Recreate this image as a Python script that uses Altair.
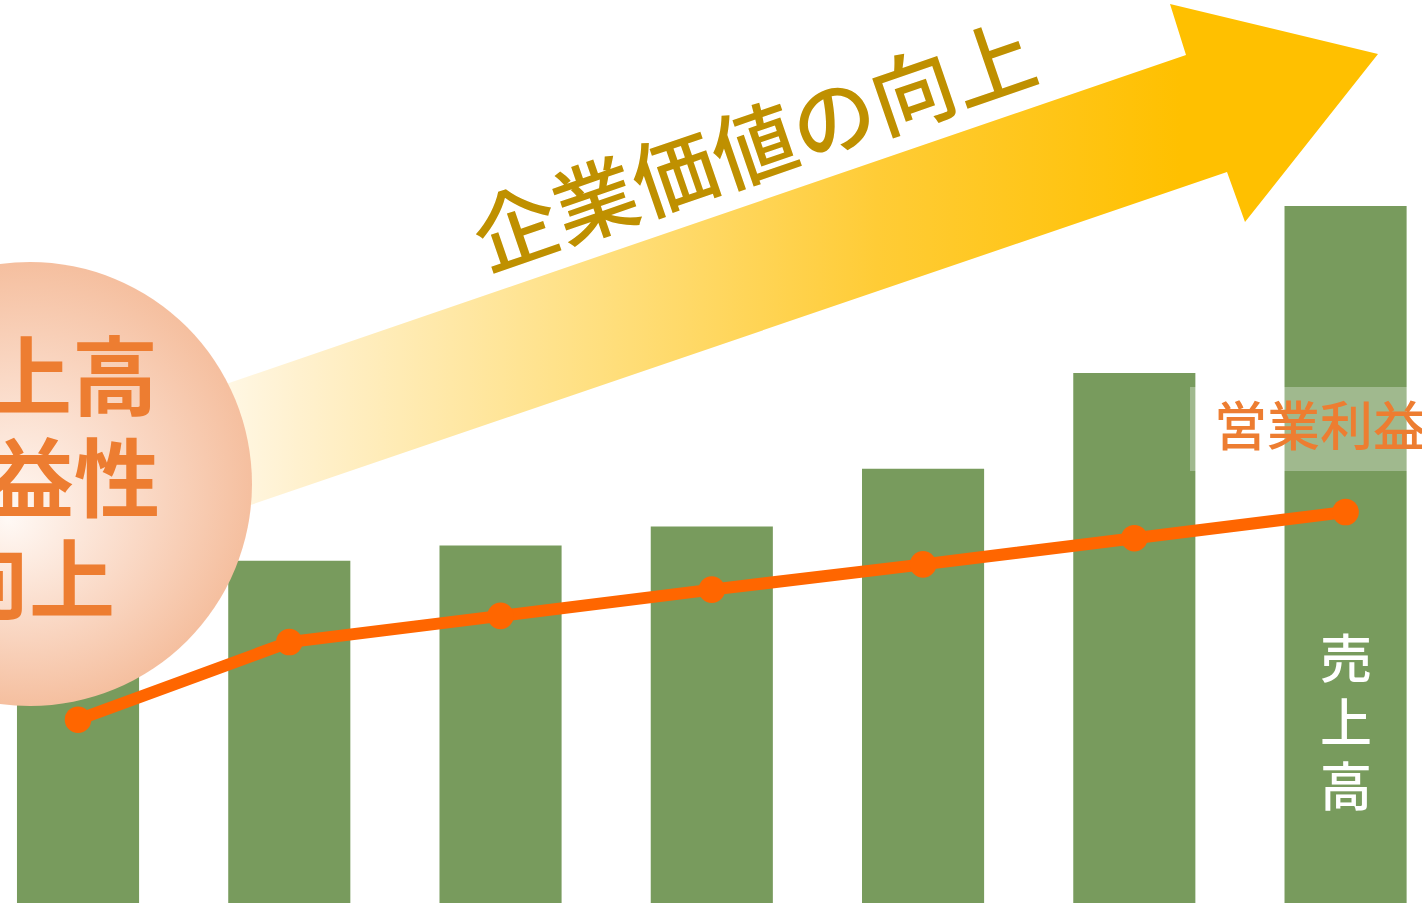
import altair as alt
import pandas as pd

# ---- data ----
periods = ["P1", "P2", "P3", "P4", "P5", "P6", "P7"]
sales = [34.0, 37.9, 39.6, 41.7, 48.1, 58.7, 77.2]          # 売上高 (bars)
profit = [20.3, 28.9, 31.8, 34.7, 37.5, 40.4, 43.3]         # 営業利益 (line)

arrow_title = "企業価値の向上"
circle_lines = ["売上高", "収益性", "の向上"]
profit_label = "営業利益"
sales_label = "売\n上\n高"

df = pd.DataFrame({"period": periods, "sales": sales, "profit": profit})

W, H = 1422, 909
FONT = "Noto Sans CJK JP"
GREEN = "#789b5d"
ORANGE_LINE = "#ff6600"
ORANGE_TEXT = "#ed7d31"
GOLD_TEXT = "#bf9000"

x_enc = alt.X("period:N", sort=periods, axis=None,
              scale=alt.Scale(range=[-27.6, 1451.2], paddingInner=0.422, paddingOuter=0.211))
y_scale = alt.Scale(domain=[0, 100], range=[903, 0], nice=False, zero=True)

base = alt.Chart(df)

bars = base.mark_bar(color=GREEN).encode(
    x=x_enc,
    y=alt.Y("sales:Q", scale=y_scale, axis=None),
)

one = alt.Data(values=[{"k": 1}])

# decorative arrow (custom symbol path, unit scale with size=4)
arrow_path = "M -640 141 L 486 -245 L 470 -296 L 678 -246 L 545 -78 L 527 -128 L -640 270 Z"
arrow_fill = {
    "gradient": "linear", "x1": 0, "y1": 0, "x2": 1, "y2": 0,
    "stops": [
        {"offset": 0.0, "color": "#ffffff"},
        {"offset": 0.10, "color": "#fffaee"},
        {"offset": 0.18, "color": "#fff1cf"},
        {"offset": 0.40, "color": "#ffe082"},
        {"offset": 0.62, "color": "#ffcc36"},
        {"offset": 0.85, "color": "#ffc000"},
        {"offset": 1.0, "color": "#ffc000"},
    ],
}
arrow = alt.Chart(one).mark_point(
    shape=arrow_path, size=4, filled=True, fill=arrow_fill, opacity=1, strokeWidth=0
).encode(x=alt.value(700), y=alt.value(300))

circle_fill = {
    "gradient": "radial", "x1": 0.45, "y1": 0.58, "r1": 0, "x2": 0.5, "y2": 0.5, "r2": 0.5,
    "stops": [
        {"offset": 0.0, "color": "#fff9f5"},
        {"offset": 0.55, "color": "#fad9c6"},
        {"offset": 1.0, "color": "#f5bf9f"},
    ],
}
circle = alt.Chart(one).mark_point(
    shape="circle", size=444 * 444, filled=True, fill=circle_fill, opacity=1, strokeWidth=0
).encode(x=alt.value(30), y=alt.value(484))

line = base.mark_line(color=ORANGE_LINE, strokeWidth=12).encode(
    x=x_enc, y=alt.Y("profit:Q", scale=y_scale, axis=None)
)
pts = base.mark_point(filled=True, color=ORANGE_LINE, size=707, opacity=1).encode(
    x=x_enc, y=alt.Y("profit:Q", scale=y_scale, axis=None)
)

label_box = alt.Chart(one).mark_rect(color="white", opacity=0.3).encode(
    x=alt.value(1190), x2=alt.value(1440), y=alt.value(387), y2=alt.value(471)
)

title_txt = alt.Chart(one).mark_text(
    text=arrow_title, font=FONT, fontSize=84, fontWeight=500, color=GOLD_TEXT,
    angle=341, align="center", baseline="middle"
).encode(x=alt.value(756), y=alt.value(152))

circ_pos = [(158, 383), (160, 485), (115, 586)]
circ_txt = []
for t, (cx, cy) in zip(circle_lines, circ_pos):
    circ_txt.append(alt.Chart(one).mark_text(
        text=t, font=FONT, fontSize=86, fontWeight="bold", color=ORANGE_TEXT,
        align="right", baseline="middle"
    ).encode(x=alt.value(cx), y=alt.value(cy)))

profit_txt = alt.Chart(one).mark_text(
    text=profit_label, font=FONT, fontSize=53, fontWeight=500, color=ORANGE_TEXT,
    align="left", baseline="middle"
).encode(x=alt.value(1214), y=alt.value(430))

sales_txt = alt.Chart(one).mark_text(
    text=sales_label, lineBreak="\n", lineHeight=64, font=FONT, fontSize=52, fontWeight=500,
    color="white", align="center", baseline="top"
).encode(x=alt.value(1346), y=alt.value(637))

chart = alt.layer(
    bars, arrow, circle, line, pts, label_box, title_txt, *circ_txt, profit_txt, sales_txt
).properties(
    width=W, height=H, padding=0, autosize=alt.AutoSizeParams(type="none"),
    background="white"
).configure_view(stroke=None)

chart.save("out.html", embed_options={"renderer": "svg", "actions": False})
